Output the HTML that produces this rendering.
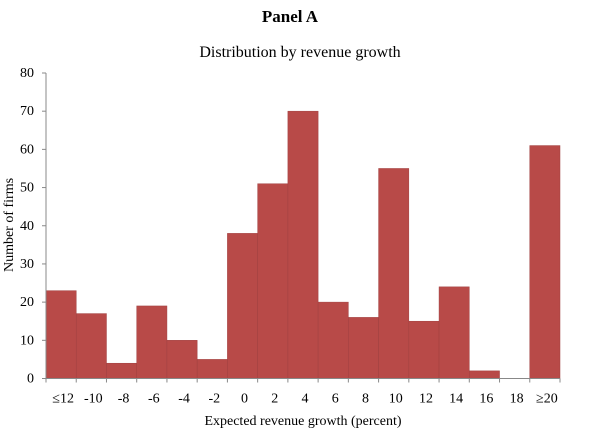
<!DOCTYPE html>
<html><head><meta charset="utf-8"><style>
body{margin:0;background:#fff}
svg text{font-family:"Liberation Serif",serif;fill:#000}
</style></head><body>
<svg width="600" height="434">
<text x="290" y="22" font-size="17" font-weight="bold" text-anchor="middle">Panel A</text>
<text x="300" y="57" font-size="16" text-anchor="middle">Distribution by revenue growth</text>
<text transform="translate(13,225) rotate(-90)" font-size="14" text-anchor="middle">Number of firms</text>
<text x="303" y="425" font-size="14" text-anchor="middle">Expected revenue growth (percent)</text>
<g id="bars"></g><g id="axes"></g>
</svg>
<script>
const categories=["≤12","-10","-8","-6","-4","-2","0","2","4","6","8","10","12","14","16","18","≥20"];
const counts=[23,17,4,19,10,5,38,51,70,20,16,55,15,24,2,0,61];
const yTicks=[0,10,20,30,40,50,60,70,80];
const X0=46,X1=560,Y0=378.5,YMAX=80,YTOP=73;
const bw=(X1-X0)/categories.length;
const xs=i=>X0+i*bw;
const ys=v=>Y0-(v/YMAX)*(Y0-YTOP);
const NS="http://www.w3.org/2000/svg";
const bars=document.getElementById('bars'),axes=document.getElementById('axes');
function mk(tag,attrs,parent){const e=document.createElementNS(NS,tag);for(const k in attrs)e.setAttribute(k,attrs[k]);parent.appendChild(e);return e;}
counts.forEach((v,i)=>{
 const r=mk('rect',{x:xs(i),y:ys(v),width:bw,height:Y0-ys(v),fill:'#b84a48',stroke:'#a04040','stroke-width':0.5},bars);
 
 
 const t=mk('text',{x:xs(i)+bw/2+2,y:Y0+24,'font-size':14,'text-anchor':'middle'},axes);
 t.textContent=categories[i];
 
 
});
const yl=mk('line',{x1:X0,y1:YTOP,x2:X0,y2:Y0,stroke:'#888','stroke-width':1},axes);


const xl=mk('line',{x1:X0,y1:Y0,x2:X1,y2:Y0,stroke:'#888','stroke-width':1},axes);


for(let i=0;i<=categories.length;i++)mk('line',{x1:xs(i),y1:Y0,x2:xs(i),y2:Y0+4,stroke:'#888'},axes);
yTicks.forEach(v=>{
 mk('line',{x1:X0-4,y1:ys(v),x2:X0,y2:ys(v),stroke:'#888'},axes);
 const t=mk('text',{x:X0-12,y:ys(v)+4,'font-size':14,'text-anchor':'end'},axes);
 t.textContent=v;
 
 
});
</script>
</body></html>
